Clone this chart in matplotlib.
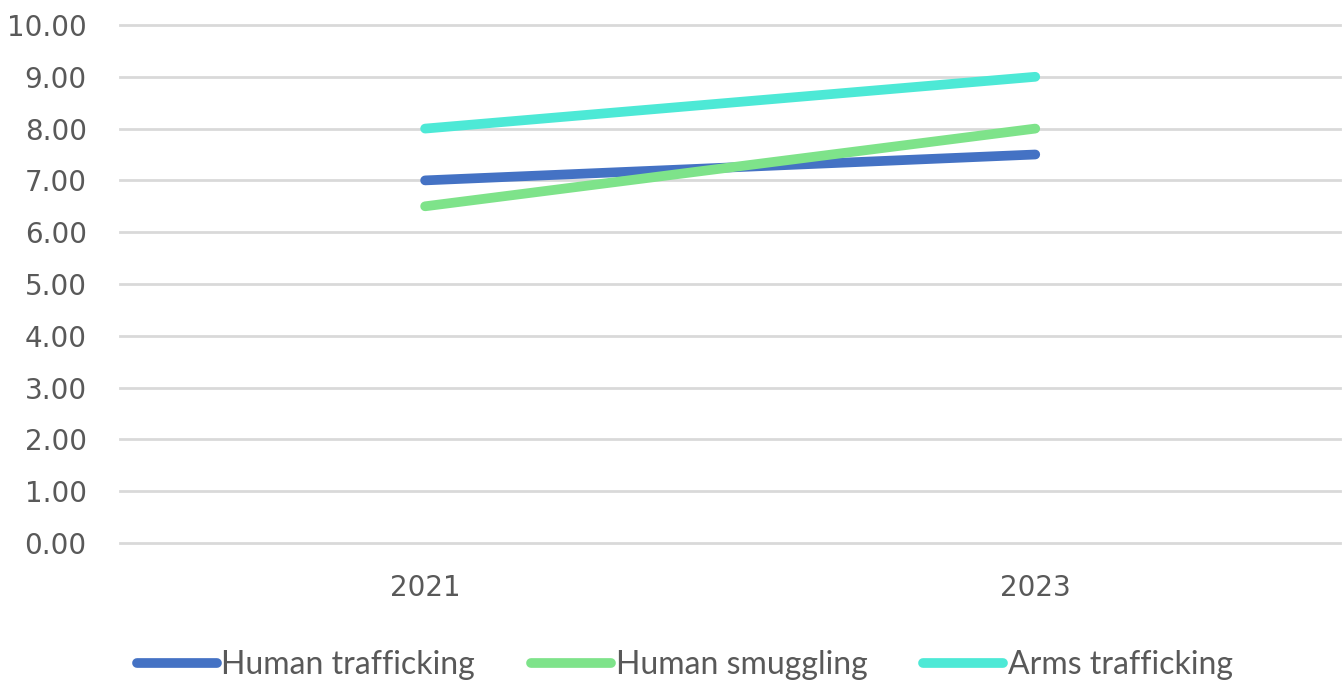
import matplotlib.pyplot as plt
import numpy as np

years = ['2021', '2023']
human_trafficking = [7.0, 7.5]
human_smuggling = [6.5, 8.0]
arms_trafficking = [8.0, 9.0]

series = [
    ('Human trafficking', human_trafficking, '#4472C4'),
    ('Human smuggling', human_smuggling, '#7EE38A'),
    ('Arms trafficking', arms_trafficking, '#4DE9D6'),
]

fig = plt.figure(figsize=(13.43, 6.83), dpi=100)
ax = fig.add_axes([0.0894, 0.205, 0.9086, 0.7584])

x = np.arange(len(years))
for name, vals, col in series:
    ax.plot(x, vals, color=col, linewidth=7, solid_capstyle='round', label=name)

ax.set_xlim(-0.5, 1.5)
ax.set_ylim(0, 10)
ax.set_yticks(np.arange(0, 11, 1))
ax.set_yticklabels(['{0:.2f}'.format(v) for v in np.arange(0, 11, 1)])
ax.set_xticks(x)
ax.set_xticklabels(years)
ax.grid(axis='y', color='#D9D9D9', linewidth=2)
for gl in ax.get_ygridlines():
    gl.set_clip_on(False)
ax.set_axisbelow(True)
for s in ax.spines.values():
    s.set_visible(False)
ax.tick_params(axis='both', length=0, labelsize=20, colors='#595959')
ax.tick_params(axis='y', pad=24)
ax.tick_params(axis='x', pad=22)

h, l = ax.get_legend_handles_labels()
leg = fig.legend(h, l, loc='center', bbox_to_anchor=(0.51, 0.026), ncol=3, frameon=False,
                 handlelength=2.5, handletextpad=0.15, columnspacing=1.75,
                 prop={'family': 'Lato', 'size': 23})
for t in leg.get_texts():
    t.set_color('#595959')

fig.savefig('out.png', dpi=100)
